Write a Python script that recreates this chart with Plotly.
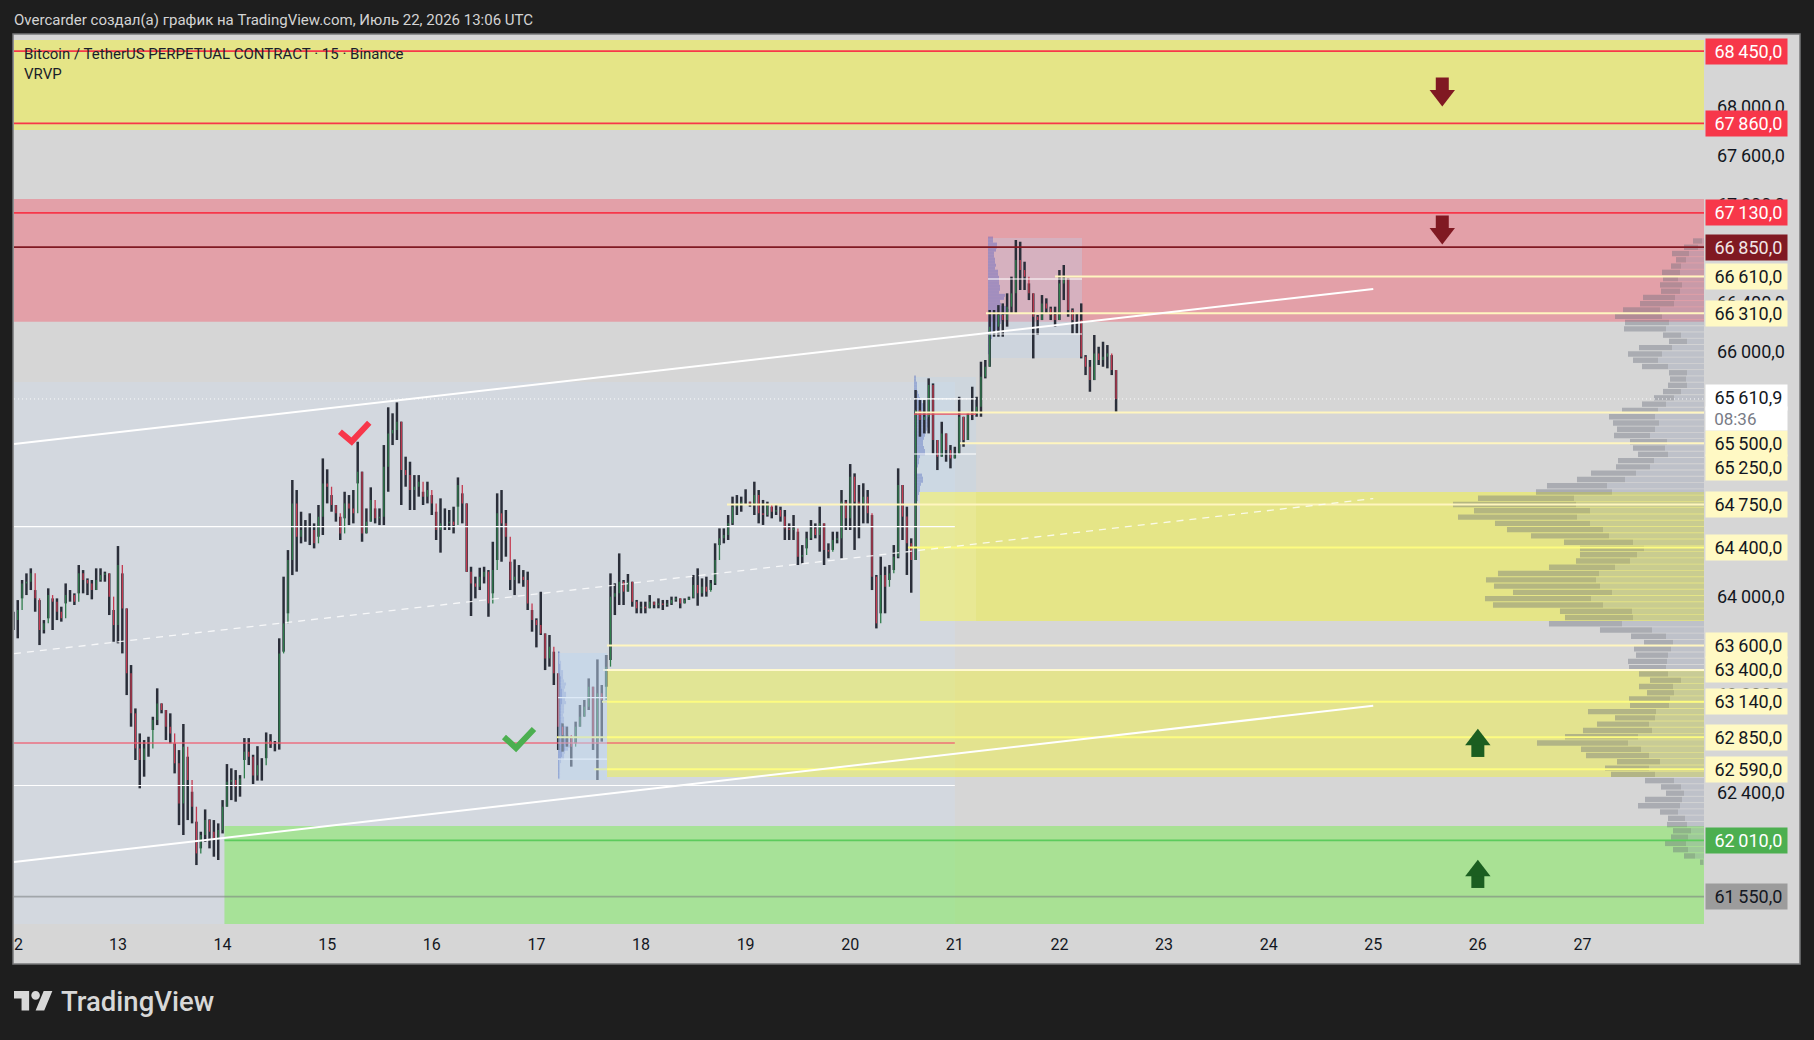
import plotly.graph_objects as go

# ---------- data ----------
candle_high = [63875,63970,64134,64188,64229,64052,63970,63807,64066,63984,63984,63916,64106,64052,64025,64256,64215,64147,64134,64229,64229,64202,64188,63889,64411,64188,63902,63440,63086,62882,62828,62855,63018,63250,63127,63073,63046,62801,62746,62959,62692,62406,62162,62080,62262,62181,62175,62148,62338,62632,62597,62583,62542,62844,62844,
 62708,62778,62680,62890,62876,62820,63658,
 64161,64378,64950,64868,64691,64623,64678,64596,64746,65126,65037,64827,64746,64650,64854,64827,64868,65262,65018,64718,64890,64718,64718,65235,65543,65494,65583,65426,65140,65099,64990,64990,64854,64936,64827,64691,64800,64718,64705,64732,64971,64841,64759,64242,64161,64234,64242,64215,64446,64841,64868,64705,64283,64302,64256,64215,64202,63889,63821,64038,63698,
 63685,63549,63372,62964,62937,62855,62978,63114,63155,63331,63263,63486,63277,63522,64188,64107,64351,64134,64183,64120,63971,63957,63957,64011,63957,63984,63971,63971,63998,63998,63984,63984,63998,64175,64229,64147,64161,64134,64433,64555,64555,64664,64814,64827,64814,64874,64773,64936,64868,
 64787,64773,64732,64746,64732,64705,64596,64664,64528,64419,64528,64623,64596,64732,64596,64433,64528,64528,64868,64787,65080,65004,64909,64923,64868,64664,64175,64324,64243,64256,64419,65045,64909,64732,64474,
 65684,65602,65602,65779,65738,65276,65425,65330,65235,65221,65629,65466,65493,65711,65629,65915,65929,66337,66337,66377,66391,66473,66609,66908,66894,66731,66554,66473,66296,66459,66432,66364,66364,66663,66704,66595,66350,66309,66391,65969,65929,66133,66037,66078,66051,65969,65847]
candle_low = [63726,63658,63984,64011,64052,63875,63603,63698,63821,63726,63807,63794,63943,63957,63930,64025,64025,64011,63976,64052,64120,64120,63848,63630,63617,63535,63195,62937,62665,62434,62529,62692,62910,62950,63046,62828,62801,62556,62134,62053,62175,62148,61808,61944,61998,61944,61876,61849,62066,62284,62338,62325,62366,62665,62624,
 62469,62497,62497,62680,62764,62736,62750,
 63549,63862,64174,64202,64433,64446,64419,64392,64487,64501,64759,64691,64610,64460,64637,64582,64596,64922,64446,64514,64610,64596,64582,64582,64854,65235,65276,64746,64895,64705,64705,64814,64746,64759,64664,64460,64357,64542,64542,64514,64732,64596,64200,63840,63984,64052,64106,63834,64025,64297,64283,64324,64052,64011,64106,64079,63889,63712,63584,63685,63399,
 63427,63277,62747,62733,62774,62611,62801,62937,63019,63073,62747,62502,62815,63263,63481,63848,63930,63930,64039,63916,63862,63862,63862,63903,63903,63903,63889,63916,63930,63957,63903,63943,63971,63984,63924,63998,63998,64052,64093,64419,64433,64460,64583,64664,64691,64746,64732,64664,64596,
 64583,64651,64637,64664,64610,64460,64460,64460,64256,64270,64392,64460,64474,64365,64256,64311,64379,64433,64311,64542,64542,64379,64474,64596,64596,64052,63739,63862,63862,64134,64215,64311,64460,64175,64030,
 64297,65303,65330,65330,65167,65031,65140,65099,65045,65126,65167,65221,65276,65439,65466,65466,65779,65874,66119,66119,66119,66201,66309,66309,66500,66500,66418,65942,66133,66255,66309,66255,66201,66255,66418,66282,66146,66146,65942,65806,65670,65765,65888,65874,65861,65806,65507]
candle_close = [63807,63889,64106,64120,64188,63984,63726,63780,64011,63957,63875,63821,64011,64011,63957,64188,64134,64106,64052,64134,64174,64188,63998,63766,64256,63902,63372,63046,62760,62665,62760,62760,62991,63127,63073,62937,62882,62638,62311,62774,62502,62284,61903,62053,62175,62080,62012,62094,62284,62488,62502,62447,62515,62733,62692,
 62539,62623,62623,62820,62792,62792,63535,
 63780,64297,64759,64487,64542,64542,64542,64433,64650,64922,64895,64746,64678,64514,64759,64718,64678,65018,64514,64610,64786,64637,64650,65058,65330,65358,65426,65031,64990,64868,64895,64936,64814,64868,64759,64542,64596,64596,64610,64582,64909,64759,64202,64106,64079,64161,64202,63943,64215,64678,64596,64487,64134,64161,64161,64134,63943,63807,63766,63698,63494,
 63590,63372,62937,62869,62869,62774,62937,63019,63100,63263,62801,63209,63155,63427,63998,64025,64120,64039,64120,63957,63903,63916,63903,63957,63930,63943,63930,63943,63971,63984,63943,63971,63992,64093,64025,64079,64039,64107,64297,64474,64501,64596,64732,64759,64773,64773,64759,64827,64678,
 64664,64746,64691,64705,64651,64555,64542,64555,64324,64338,64474,64555,64501,64596,64379,64365,64460,64474,64773,64637,64977,64773,64759,64814,64678,64161,63780,64175,64079,64188,64324,64909,64651,64433,64297,
 65521,65439,65466,65725,65276,65140,65330,65194,65126,65167,65466,65276,65480,65493,65548,65793,65874,66201,66201,66296,66255,66364,66473,66745,66663,66609,66473,66282,66255,66391,66350,66296,66255,66554,66595,66337,66255,66255,65956,65874,65765,65983,65929,65956,65983,65847,65610.9]
candle_first_open = 63760
candle_start_day = 12.0
candle_hours = 24

vrvp_total = [11,20,32,28,33,42,41,44,43,61,64,81,89,79,80,41,35,65,76,71,62,35,34,36,41,50,62,82,95,91,87,90,74,71,66,86,88,113,127,157,168,226,
 251,230,246,209,197,173,140,124,124,128,155,206,218,210,191,219,211,144,139,155,104,73,60,70,68,76,75,65,54,65,57,75,74,116,89,107,121,139,167,123,118,87,99,93,59,43,38,59,66,44,36,37,31,33,39,31,20,4]
vrvp_part = [2,6,15,18,23,24,26,22,24,29,30,44,42,35,38,23,17,32,42,46,36,17,18,17,23,30,38,46,49,45,49,54,37,39,36,50,54,68,79,97,92,130,
 128,114,127,114,101,95,71,60,67,74,89,105,108,104,92,113,101,72,71,82,52,38,31,33,36,37,38,36,23,31,30,34,35,48,49,55,52,66,76,63,55,44,55,49,30,23,20,22,24,26,19,17,13,16,18,16,9,1]
vrvp_top_price = 66900
vrvp_step = 51.2

profile1 = [2,2,2,3,3,3,5,5,5,6,8,7,6,8,8,7,8,6,6,6,5,6,6,5,10,10,9,11,11,11,12,10,7,6,6,3,2,2,2,2,2]
profile1_core = [1,1,1,1,2,2,2,2,3,3,3,3,4,4,4,4,4,3,3,3,3,3,3,4,6,6,6,7,8,8,7,7,4,4,3,1,1,1,1,1,1]
profile2 = [2,2,3,3,3,4,5,6,8,10,11,11,12,13,14,14,14,13,12,11,10,9,9,10,11,11,6,5,5,4,3,3,8,9,9,7,6,6,5,4,4,3]
profile3 = [5,5,9,9,8,6,6,7,7,8,7,10,10,11,11,11,12,12,11,17,16,12,13,20,21,19,15,14,13,12,10,5,4,4,3,2,1,1,1]
profile_days = [17.207, 20.61, 21.317]
profile_tops = [63538, 65790, 66924]
profile_steps = [25.3, 25.0, 24.6]

day_ticks = [12.05,13,14,15,16,17,18,19,20,21,22,23,24,25,26,27]
day_labels = ["2","13","14","15","16","17","18","19","20","21","22","23","24","25","26","27"]
price_ticks = [68000,67600,67200,66400,66000,64800,64000,63200,62400,61600]
fmt = lambda v: f"{v//1000}\u2009{v%1000:03d},0"

X0, X1 = 12.006, 28.162
Y0, Y1 = 61327, 68589

# zones: day start, day end, price low, price high, colour
zones = [
 (X0, 21.0, 61327, 65749, "#d3d8df"),
 (X0, X1, 67805, 68540, "rgba(255,255,0,.37)"),
 (X0, X1, 66241, 67242, "#e3a0a8"),
 (20.667, X1, 63799, 64852, "rgba(255,255,0,.37)"),
 (17.675, X1, 62527, 63400, "rgba(255,255,0,.33)"),
 (14.018, X1, 61327, 62127, "rgba(124,236,82,.5)"),
 (20.61, 21.203, 64852, 65790, "rgba(190,214,240,.3)"),
 (20.667, 21.203, 63799, 64852, "rgba(255,255,225,.14)"),
 (21.317, 22.216, 65945, 66924, "rgba(190,210,235,.35)"),
]

# level lines: price, start day, end day, colour, width
RED, DRED, PALE, BRIGHT = "#f7374a", "#801922", "#fff6bf", "#fdfc80"
levels = [
 (68450, X0, X1, RED, 1.7), (67860, X0, X1, RED, 1.7), (67130, X0, X1, RED, 1.7), (66850, X0, X1, DRED, 1.7),
 (66610, 21.958, X1, PALE, 2), (66310, 21.298, X1, PALE, 2), (65500, 20.62, X1, PALE, 2), (65250, 21.05, X1, PALE, 2),
 (64750, 18.822, X1, PALE, 2), (64400, 20.552, X1, BRIGHT, 2), (63600, 17.675, X1, PALE, 2), (63400, 17.637, X1, "#fff9d0", 2),
 (63140, 17.627, X1, BRIGHT, 2), (62850, 17.197, X1, BRIGHT, 2), (62590, 17.551, X1, BRIGHT, 2),
 (62010, 14.018, X1, "#5ccb5c", 1.7), (61550, X0, X1, "rgba(120,125,125,.55)", 1.7),
 (62804, X0, 21.0, "rgba(240,90,110,.62)", 2), (64570, X0, 21.0, "#ffffff", 1.2), (62457, X0, 21.0, "#ffffff", 1.2),
 (63174, 17.207, 17.675, "#ffffff", 1.2), (62673, 17.207, 17.675, "#ffffff", 1.2),
 (65611, 20.61, 21.203, "#ffffff", 1.2), (65162, 20.61, 21.203, "#ffffff", 1.2), (65488, 20.61, 21.203, "#e8505f", 1.2),
 (66590, 21.317, 22.216, "#ffffff", 1.2), (66141, 21.317, 22.216, "#ffffff", 1.2),
]
trend_days = [X0, 25.0]
trend_upper = [65243, 66508]
trend_mid = [63533, 64798]
trend_lower = [61833, 63108]
last_price = 65610.9

check_red_d, check_red_p = [15.122,15.234,15.402], [65344,65263,65417]
check_green_d, check_green_p = [16.690,16.805,16.977], [62853,62763,62918]
arrow_down_d = 25.66
arrow_down_body = [68181, 67055]
arrow_down_head = [68088, 66962]
arrow_up_d = 26.0
arrow_up_head = [62830, 61761]
arrow_up_body = [62743, 61674]

# tags: text, price, pixel shift, background, text colour
tags = [
 ("68\u2009450,0",68450,0,RED,"#ffffff"),("67\u2009860,0",67860,0,RED,"#ffffff"),("67\u2009130,0",67130,0,RED,"#ffffff"),
 ("66\u2009850,0",66850,0,DRED,"#f2e6e6"),("66\u2009610,0",66610,0,"#fff9c4","#131722"),("66\u2009310,0",66310,0,"#fff9c4","#131722"),
 ("65\u2009500,0",65500,-31.4,"#fff9c4","#131722"),("65\u2009250,0",65250,-24.4,"#fff9c4","#131722"),
 ("64\u2009750,0",64750,0,"#fff9c4","#131722"),("64\u2009400,0",64400,0,"#fff9c4","#131722"),
 ("63\u2009600,0",63600,0,"#fff9c4","#131722"),("63\u2009400,0",63400,0,"#fff9c4","#131722"),("63\u2009140,0",63140,0,"#fff9c4","#131722"),
 ("62\u2009850,0",62850,0,"#fff9c4","#131722"),("62\u2009590,0",62590,0,"#fff9c4","#131722"),
 ("62\u2009010,0",62010,0,"#4caf50","#ffffff"),("61\u2009550,0",61550,0,"#9c9c9c","#131722"),
]

# ---------- figure ----------
W, H = 1814, 1040
ML, MR, MT, MB = 14, 110, 34, 116
PW, PH = W-ML-MR, H-MT-MB
px = lambda x: (x-ML)/PW
py = lambda y: 1-(y-MT)/PH
fig = go.Figure()

# volume profile (right)
vr_price = [vrvp_top_price - k*vrvp_step for k in range(len(vrvp_total))]
DAY_PX = 104.6
fig.add_trace(go.Bar(orientation="h", y=vr_price, x=[v/DAY_PX for v in vrvp_part],
    base=[X1 - v/DAY_PX for v in vrvp_part], width=vrvp_step*0.86,
    marker=dict(color="rgba(130,140,170,.28)", line_width=0), hoverinfo="skip"))
fig.add_trace(go.Bar(orientation="h", y=vr_price, x=[(t-v)/DAY_PX for t, v in zip(vrvp_total, vrvp_part)],
    base=[X1 - t/DAY_PX for t in vrvp_total], width=vrvp_step*0.86,
    marker=dict(color="rgba(100,105,120,.38)", line_width=0), hoverinfo="skip"))

# session profiles
for prof, d0, top, step, col in [
    (profile1, profile_days[0], profile_tops[0], profile_steps[0], "rgba(80,105,190,.35)"),
    (profile1_core, profile_days[0], profile_tops[0], profile_steps[0], "rgba(60,80,170,.5)"),
    (profile2, profile_days[1], profile_tops[1], profile_steps[1], "rgba(80,105,190,.4)"),
    (profile3, profile_days[2], profile_tops[2], profile_steps[2], "rgba(85,90,190,.4)")]:
    fig.add_trace(go.Bar(orientation="h", y=[top - k*step for k in range(len(prof))],
        x=[v/DAY_PX for v in prof], base=[d0]*len(prof), width=step,
        marker=dict(color=col, line_width=0), hoverinfo="skip"))

# candles
days = [candle_start_day + i/candle_hours for i in range(len(candle_close))]
opens = [candle_first_open] + candle_close[:-1]
wx, wy, ux, uy, dx, dy = [], [], [], [], [], []
for d, o, h, l, c in zip(days, opens, candle_high, candle_low, candle_close):
    wx += [d, d, None]; wy += [l, h, None]
    if c >= o:
        ux += [d, d, None]; uy += [o, c, None]
    else:
        dx += [d, d, None]; dy += [o, c, None]
fig.add_trace(go.Scatter(x=wx, y=wy, mode="lines", line=dict(color="#2a2e39", width=2.5), hoverinfo="skip"))
fig.add_trace(go.Scatter(x=ux, y=uy, mode="lines", line=dict(color="#2f7d4c", width=1.3), hoverinfo="skip"))
fig.add_trace(go.Scatter(x=dx, y=dy, mode="lines", line=dict(color="#c43a50", width=1.3), hoverinfo="skip"))

# level and trend lines
for p, d0, d1, col, w in levels:
    fig.add_trace(go.Scatter(x=[d0, d1], y=[p, p], mode="lines", line=dict(color=col, width=w), hoverinfo="skip"))
fig.add_trace(go.Scatter(x=[X0, X1], y=[last_price]*2, mode="lines",
    line=dict(color="rgba(255,255,255,.9)", width=1, dash="1px,3px"), hoverinfo="skip"))
fig.add_trace(go.Scatter(x=trend_days, y=trend_upper, mode="lines", line=dict(color="#ffffff", width=2), hoverinfo="skip"))
fig.add_trace(go.Scatter(x=trend_days, y=trend_lower, mode="lines", line=dict(color="#ffffff", width=2), hoverinfo="skip"))
fig.add_trace(go.Scatter(x=trend_days, y=trend_mid, mode="lines",
    line=dict(color="rgba(255,255,255,.8)", width=1.3, dash="7px,6px"), hoverinfo="skip"))

# checks
fig.add_trace(go.Scatter(x=check_red_d, y=check_red_p, mode="lines",
    line=dict(color="#f7374a", width=6), hoverinfo="skip"))
fig.add_trace(go.Scatter(x=check_green_d, y=check_green_p, mode="lines",
    line=dict(color="#4caf50", width=6), hoverinfo="skip"))

# arrows
fig.add_trace(go.Scatter(x=[arrow_down_d]*2, y=arrow_down_body, mode="markers",
    marker=dict(symbol="square", size=13, color=DRED, line_width=0), hoverinfo="skip"))
fig.add_trace(go.Scatter(x=[arrow_down_d]*2, y=arrow_down_head, mode="markers",
    marker=dict(symbol="triangle-down", size=22, color=DRED, line_width=0), hoverinfo="skip"))
fig.add_trace(go.Scatter(x=[arrow_up_d]*2, y=arrow_up_body, mode="markers",
    marker=dict(symbol="square", size=13, color="#1b5e20", line_width=0), hoverinfo="skip"))
fig.add_trace(go.Scatter(x=[arrow_up_d]*2, y=arrow_up_head, mode="markers",
    marker=dict(symbol="triangle-up", size=22, color="#1b5e20", line_width=0), hoverinfo="skip"))

# shapes
shapes = [dict(type="rect", xref="paper", yref="paper", x0=px(13), x1=px(1800), y0=py(964), y1=py(34),
               fillcolor="#d6d6d6", line=dict(color="#77787a", width=1.5), layer="below")]
for d0, d1, p0, p1, col in zones:
    shapes.append(dict(type="rect", x0=d0, x1=d1, y0=p0, y1=p1, fillcolor=col, line_width=0, layer="below"))
# session box that veils the candles under it
shapes.append(dict(type="rect", x0=17.207, x1=17.675, y0=62502, y1=63538,
                   fillcolor="rgba(190,214,240,.5)", line_width=0, layer="above"))
# logo
def lg(x, y):
    return f"{px(14+x*1.08):.5f},{py(986.7+y*1.08):.5f}"
logo = ("M" + " L".join(lg(*q) for q in [(14,22),(7,22),(7,11),(0,11),(0,4),(14,4)]) + " Z "
        "M" + " L".join(lg(*q) for q in [(28,22),(20,22),(27.5,4),(35.5,4)]) + " Z")
shapes.append(dict(type="path", xref="paper", yref="paper", path=logo, fillcolor="#d8d8d8", line_width=0, layer="above"))
shapes.append(dict(type="circle", xref="paper", yref="paper", x0=px(14+16*1.08), x1=px(14+24*1.08),
                   y0=py(986.7+12*1.08), y1=py(986.7+4*1.08), fillcolor="#d8d8d8", line_width=0, layer="above"))

# annotations
ann = []
def text(x, y, s, size, col, anchor="left", **kw):
    ann.append(dict(xref="paper", yref="paper", x=px(x), y=py(y), text=s, showarrow=False, xanchor=anchor, yanchor="middle",
                    font=dict(family="Roboto", size=size, color=col, **kw)))
text(12, 19.5, "Overcarder создал(а) график на TradingView.com, Июль 22, 2026 13:06 UTC", 15, "#d4d4d4")
text(22, 54, "Bitcoin / TetherUS PERPETUAL CONTRACT · 15 · Binance", 15, "#1a1e2a")
text(22, 74, "VRVP", 15, "#1a1e2a")
text(59, 1002, "TradingView", 27.5, "#d8d8d8", weight=500)

TAGX = px(1705)
for s, p, sh, bg, fg in tags:
    ann.append(dict(xref="paper", yref="y", x=TAGX, y=p, yshift=sh, text=s + "\u2009", showarrow=False, xanchor="left",
                    yanchor="middle", align="right", width=79, height=23, borderpad=1, bgcolor=bg,
                    font=dict(family="Roboto", size=18, color=fg)))
# live price tag
ann.append(dict(xref="paper", yref="y", x=TAGX, y=last_price, yshift=1, text="65\u2009610,9\u2009", showarrow=False, xanchor="left",
                yanchor="middle", align="right", width=79, height=23, borderpad=1, bgcolor="#ffffff",
                font=dict(family="Roboto", size=18, color="#131722")))
ann.append(dict(xref="paper", yref="y", x=TAGX, y=last_price, yshift=-20, text="08:36\u00a0\u00a0\u00a0\u00a0\u00a0\u00a0\u00a0", showarrow=False, xanchor="left",
                yanchor="middle", align="right", width=79, height=21, borderpad=1, bgcolor="#ffffff",
                font=dict(family="Roboto", size=17, color="#787b86")))

fig.update_layout(
    width=W, height=H, margin=dict(l=ML, r=MR, t=MT, b=MB, pad=0),
    paper_bgcolor="#1e1e1e", plot_bgcolor="#d6d6d6", showlegend=False, barmode="overlay",
    shapes=shapes, annotations=ann, hovermode=False,
    xaxis=dict(range=[X0, X1], tickmode="array", tickvals=day_ticks, ticktext=day_labels, showgrid=False, zeroline=False,
               showline=False, ticks="", ticklabelstandoff=9, tickfont=dict(family="Roboto", size=16, color="#131722")),
    yaxis=dict(range=[Y0, Y1], side="right", tickmode="array", tickvals=price_ticks, ticktext=[fmt(v) for v in price_ticks],
               showgrid=False, zeroline=False, showline=False, ticks="", ticklabelstandoff=12,
               tickfont=dict(family="Roboto", size=18, color="#131722")),
)
fig.write_html("out.html", config=dict(displayModeBar=False),
               post_script="document.body.style.margin='0';document.body.style.background='#1e1e1e';document.body.style.overflow='hidden';")
